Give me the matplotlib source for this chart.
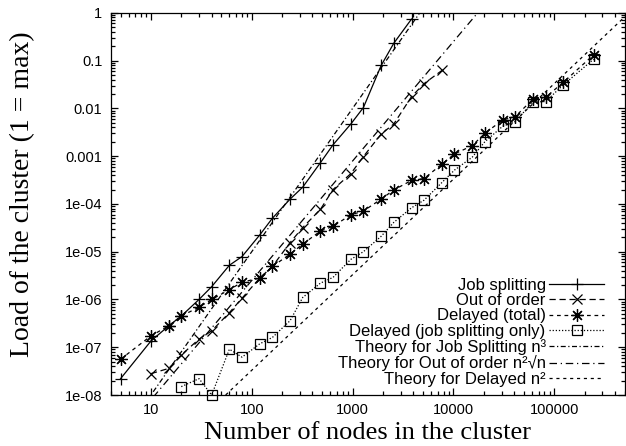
import numpy as np
import matplotlib
matplotlib.use('Agg')
import matplotlib.pyplot as plt
from matplotlib.ticker import LogLocator, FixedLocator, FixedFormatter, NullFormatter

plt.rcParams['font.family'] = ['Liberation Sans', 'DejaVu Sans']

#---------- measured loads

n_split = [5, 10, 15, 20, 30, 40, 60, 80, 120, 160, 240, 320, 480, 640, 960, 1280, 1920, 2560, 3840]
load_split = [2.2e-8, 1.35e-7, 2.8e-7, 4.5e-7, 1.0e-6, 1.85e-6, 5.2e-6, 7.9e-6, 2.24e-5, 5.0e-5,
              1.26e-4, 2.24e-4, 7.3e-4, 1.73e-3, 4.7e-3, 1.04e-2, 0.079, 0.23, 0.74]

n_order = [10, 15, 20, 30, 40, 60, 80, 120, 160, 240, 320, 480, 640, 960, 1280, 1920, 2560, 3840, 5120, 7680]
load_order = [2.8e-8, 3.6e-8, 6.9e-8, 1.48e-7, 2.2e-7, 5.3e-7, 1.06e-6, 2.8e-6, 4.9e-6, 1.55e-5,
              3.2e-5, 7.7e-5, 2.0e-4, 4.3e-4, 9.8e-4, 2.9e-3, 4.7e-3, 0.0176, 0.033, 0.062]

n_delay = [5, 10, 15, 20, 30, 40, 60, 80, 120, 160, 240, 320, 480, 640, 960, 1280, 1920, 2560, 3840,
           5120, 7680, 10240, 15360, 20480, 30720, 40960, 61440, 81920, 122880, 245760]
load_delay = [5.6e-8, 1.73e-7, 2.8e-7, 4.5e-7, 6.9e-7, 1.0e-6, 1.6e-6, 2.3e-6, 2.8e-6, 4.9e-6,
              8.9e-6, 1.44e-5, 2.7e-5, 3.4e-5, 5.9e-5, 7.1e-5, 1.26e-4, 1.96e-4, 3.1e-4, 3.4e-4,
              6.8e-4, 1.11e-3, 1.66e-3, 3.0e-3, 5.7e-3, 6.7e-3, 0.0156, 0.017, 0.035, 0.132]

n_delay_js = [20, 30, 40, 60, 80, 120, 160, 240, 320, 480, 640, 960, 1280, 1920, 2560, 3840, 5120,
              7680, 10240, 15360, 20480, 30720, 40960, 61440, 81920, 122880, 245760]
load_delay_js = [1.5e-8, 2.2e-8, 1.0e-8, 9.1e-8, 6.2e-8, 1.18e-7, 1.6e-7, 3.6e-7, 1.1e-6, 2.2e-6,
                 2.9e-6, 6.9e-6, 1.0e-5, 2.1e-5, 4.1e-5, 8.3e-5, 1.2e-4, 2.8e-4, 5.1e-4, 9.5e-4,
                 2.0e-3, 4.2e-3, 5.3e-3, 0.0135, 0.0139, 0.031, 0.107]

#---------- theory: load = coef * n^exponent

coef_split, exp_split = 1.0e-11, 3.0
coef_order, exp_order = 2.5e-11, 2.5
coef_delay, exp_delay = 3.3e-12, 2.0

xticks = [10, 100, 1000, 10000, 100000]
xticklabels = ['10', '100', '1000', '10000', '100000']
yticks = [1e-8, 1e-7, 1e-6, 1e-5, 1e-4, 1e-3, 1e-2, 1e-1, 1]
yticklabels = ['1e-08', '1e-07', '1e-06', '1e-05', '1e-04', '0.001', '0.01', '0.1', '1']

#----------

fig = plt.figure(figsize=(6.26, 4.46), dpi=100)
ax = fig.add_axes([0.177, 0.1143, 0.821, 0.857])

ax.plot(n_split, load_split, color='black', lw=0.9, marker='+', ms=8, mew=0.9,
        label='Job splitting')
ax.plot(n_order, load_order, color='black', lw=0.9, ls=(0, (5, 3)), marker='x', ms=7, mew=0.9,
        label='Out of order')
ax.plot(n_delay, load_delay, color='black', lw=0.9, ls=(0, (3, 3)), marker=(8, 2, 0), ms=9, mew=0.9,
        label='Delayed (total)')
ax.plot(n_delay_js, load_delay_js, color='black', lw=0.9, ls=(0, (1, 1.5)), marker='s', ms=6.5,
        mew=0.9, mfc='none', clip_on=False, label='Delayed (job splitting only)')

nn = np.array([4.0, 5.0e5])
ax.plot(nn, coef_split * nn**exp_split, color='black', lw=0.9, ls=(0, (4, 2, 1, 2)),
        label='Theory for Job Splitting n³')
ax.plot(nn, coef_order * nn**exp_order, color='black', lw=0.9, ls=(0, (6, 3, 1, 3)),
        label='Theory for Out of order n²√n')
ax.plot(nn, coef_delay * nn**exp_delay, color='black', lw=0.9, ls=(0, (2.5, 3)),
        label='Theory for Delayed n²')

ax.set_xscale('log')
ax.set_yscale('log')
ax.set(xlim=(4, 5.0e5), ylim=(1e-8, 1))

ax.xaxis.set_major_locator(FixedLocator(xticks))
ax.xaxis.set_major_formatter(FixedFormatter(xticklabels))
ax.yaxis.set_major_locator(FixedLocator(yticks))
ax.yaxis.set_major_formatter(FixedFormatter(yticklabels))
ax.xaxis.set_minor_locator(LogLocator(base=10, subs=np.arange(2, 10), numticks=20))
ax.yaxis.set_minor_locator(LogLocator(base=10, subs=np.arange(2, 10), numticks=20))
ax.xaxis.set_minor_formatter(NullFormatter())
ax.yaxis.set_minor_formatter(NullFormatter())
ax.tick_params(which='both', direction='in', top=True, right=True, labelsize=10.5, width=0.9)
ax.tick_params(which='major', length=5, pad=6)
ax.tick_params(which='minor', length=3)
for s in ax.spines.values():
    s.set_linewidth(0.9)

ax.set_xlabel('Number of nodes in the cluster', family='Liberation Serif', fontsize=19, labelpad=3)
ax.set_ylabel('Load of the cluster (1 = max)', family='Liberation Serif', fontsize=20)
ax.yaxis.set_label_coords(-0.148, 0.526)

leg = ax.legend(loc='lower right', bbox_to_anchor=(0.976, 0.0), frameon=False, markerfirst=False,
                fontsize=12, handlelength=3.3, handletextpad=0.2, labelspacing=0.02, borderpad=0)
for col in leg._legend_handle_box.get_children():
    col.align = 'right'

plt.savefig('out.png', dpi=100)
